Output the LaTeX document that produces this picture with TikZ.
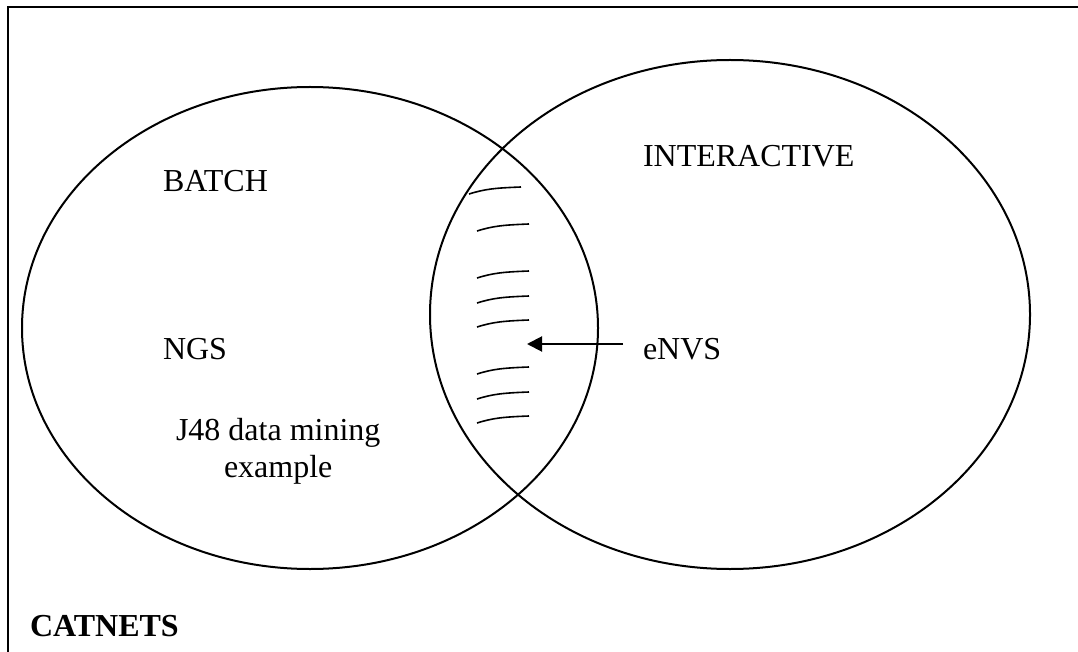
\documentclass[tikz,border=0pt]{standalone}
\usepackage{fontspec}
\setmainfont{Liberation Serif}
\usetikzlibrary{shapes.geometric, arrows.meta}

\begin{document}
\begin{tikzpicture}[x=1pt, y=-1pt, line width=2pt,
    lbl/.style={anchor=base west, inner sep=0pt, font=\fontsize{32}{37}\selectfont},
    hatch/.style={line width=1.6pt}]
\useasboundingbox (0,0) rectangle (1078,652);
\draw (8,652) -- (8,7) -- (1078,7);
\node[draw, ellipse, inner sep=0pt, minimum width=576pt, minimum height=482pt] (batchset) at (310,328) {};
\node[draw, ellipse, inner sep=0pt, minimum width=600pt, minimum height=509pt] (interset) at (730,314.5) {};
\node[lbl] (batch) at (162,192) {BATCH};
\node[lbl] (inter) at (642,167) {INTERACTIVE};
\node[lbl] (ngs) at (162,359) {NGS};
\node[lbl] (envs) at (642,359) {eNVS};
\node[lbl] (j48) at (175,440) {J48 data mining};
\node[lbl, anchor=base] (example) at ([yshift=-37pt]j48.base) {example};
\node[lbl, font=\fontsize{32}{37}\selectfont\bfseries] (catnets) at (29,636) {CATNETS};
% strokes in the overlap
\draw[hatch] (469,194) .. controls (485,189) and (495,188) .. (521,187);
\foreach \y in {231,278,303,327,374,399,423}
  \draw[hatch] (477,\y) .. controls (493,\y-5) and (503,\y-6) .. (529,\y-7);
\coordinate (tip) at (527,344);
\draw[-{Triangle[length=15pt,width=15pt]}] ([xshift=-19pt]envs.west |- tip) -- (tip);
\end{tikzpicture}
\end{document}
